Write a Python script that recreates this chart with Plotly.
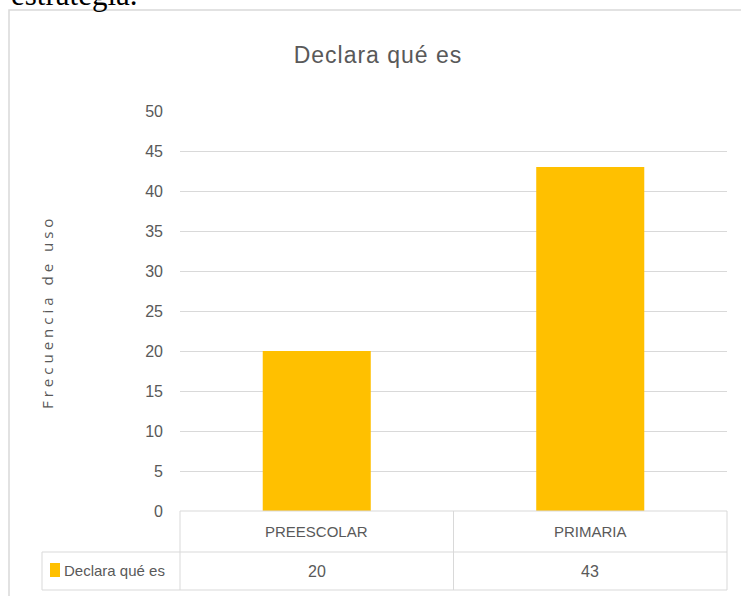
import plotly.graph_objects as go

# data
niveles = ["PREESCOLAR", "PRIMARIA"]
frecuencia = [20, 43]
serie = "Declara qué es"
titulo_y = "Frecuencia de uso"
marcas_y = [0, 5, 10, 15, 20, 25, 30, 35, 40, 45, 50]

GRIS_TXT = "#595959"
GRIS_LINEA = "#d9d9d9"
AMARILLO = "#ffc000"
NARROW = "Liberation Sans Narrow, Arial Narrow, Liberation Sans, sans-serif"

fig = go.Figure()
fig.add_trace(go.Bar(x=niveles, y=frecuencia, name=serie, marker_color=AMARILLO,
                     marker_line_width=0, showlegend=False, hoverinfo="skip"))

# plot area is 180..727 px wide, 111..511 px tall
def px_x(p):
    return (p - 180) / 547

def px_y(p):
    return (511 - p) / 400

shapes = []
linea = dict(color=GRIS_LINEA, width=1)
# outer chart border (runs off the picture on the right and bottom)
shapes.append(dict(type="rect", xref="paper", yref="paper", x0=px_x(9), x1=px_x(748),
                   y0=px_y(602), y1=px_y(10), line=dict(color=GRIS_LINEA, width=1.5)))
# data table grid
fila1 = px_y(552)
fila2 = px_y(590)
izq = px_x(42)
shapes.append(dict(type="line", xref="paper", yref="paper", x0=0, x1=1, y0=0, y1=0, line=linea))
shapes.append(dict(type="line", xref="paper", yref="paper", x0=izq, x1=1, y0=fila1, y1=fila1, line=linea))
shapes.append(dict(type="line", xref="paper", yref="paper", x0=izq, x1=1, y0=fila2, y1=fila2, line=linea))
for xv in [0, 0.5, 1]:
    shapes.append(dict(type="line", xref="paper", yref="paper", x0=xv, x1=xv, y0=0, y1=fila2, line=linea))
shapes.append(dict(type="line", xref="paper", yref="paper", x0=izq, x1=izq, y0=fila1, y1=fila2, line=linea))
# legend key
shapes.append(dict(type="rect", xref="paper", yref="paper", x0=px_x(50), x1=px_x(60),
                   y0=px_y(577), y1=px_y(563), fillcolor=AMARILLO, line_width=0))

anns = []
for nivel, valor in zip(niveles, frecuencia):
    anns.append(dict(x=nivel, y=px_y(531), xref="x", yref="paper", text=nivel, showarrow=False,
                     xanchor="center", yanchor="middle",
                     font=dict(family=NARROW, size=15, color=GRIS_TXT)))
    anns.append(dict(x=nivel, y=px_y(571), xref="x", yref="paper", text=str(valor), showarrow=False,
                     xanchor="center", yanchor="middle",
                     font=dict(family=NARROW, size=16, color=GRIS_TXT)))
anns.append(dict(x=px_x(62), y=px_y(570), xref="paper", yref="paper", text=serie, showarrow=False,
                 xanchor="left", yanchor="middle", font=dict(family=NARROW, size=15, color=GRIS_TXT)))
anns.append(dict(x=px_x(47), y=px_y(312), xref="paper", yref="paper", textangle=-90, showarrow=False,
                 xanchor="center", yanchor="middle",
                 text='<span style="letter-spacing:4px">' + titulo_y + '</span>',
                 font=dict(family="Open Sans, sans-serif", size=15, color=GRIS_TXT)))
# cut-off text from the page above the chart
anns.append(dict(x=px_x(9), y=px_y(14), xref="paper", yref="paper", text="estrategia.",
                 showarrow=False, xanchor="left", yanchor="bottom",
                 font=dict(family="Liberation Serif, serif", size=31, color="black")))

fig.update_layout(
    width=741, height=596,
    margin=dict(l=180, r=14, t=111, b=85),
    paper_bgcolor="white", plot_bgcolor="white",
    title=dict(text='<span style="letter-spacing:1px">' + serie + '</span>',
               x=378 / 741, xanchor="center", y=1 - 55 / 596, yanchor="middle",
               font=dict(family="Liberation Sans, sans-serif", size=23, color=GRIS_TXT)),
    bargap=0.605,
    shapes=shapes,
    annotations=anns,
)
fig.update_xaxes(showticklabels=False, showgrid=False, showline=False, ticks="", zeroline=False)
fig.update_yaxes(range=[0, 50], tickvals=marcas_y, showgrid=True, gridcolor=GRIS_LINEA, gridwidth=1,
                 zeroline=False, showline=False, ticks="", ticklabelstandoff=16,
                 tickfont=dict(family=NARROW, size=16, color=GRIS_TXT))

# drop the browser's default body margin so the figure sits at the window corner
fig.write_html("out.html", config={"displayModeBar": False},
               post_script="document.body.style.margin='0px';")
